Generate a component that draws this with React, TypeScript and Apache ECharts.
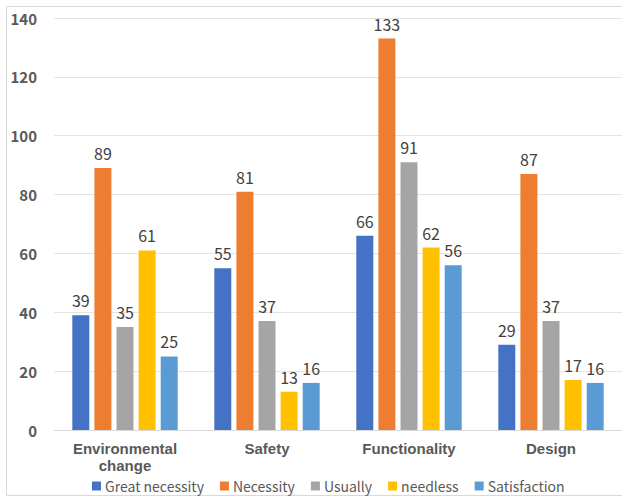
import React, { useEffect, useRef } from "react";
import * as echarts from "echarts";

const categories = ["Environmental\nchange", "Safety", "Functionality", "Design"];
const seriesNames = ["Great necessity", "Necessity", "Usually", "needless", "Satisfaction"];
const greatNecessity = [39, 55, 66, 29];
const necessity = [89, 81, 133, 87];
const usually = [35, 37, 91, 37];
const needless = [61, 13, 62, 17];
const satisfaction = [25, 16, 56, 16];
const colors = ["#4472C4", "#ED7D31", "#A5A5A5", "#FFC000", "#5B9BD5"];

const FONT = "'Noto Sans CJK KR', 'Noto Sans', sans-serif";
const CAT_FONT = "'Liberation Sans', Arial, sans-serif";

export default function App() {
  const ref = useRef<HTMLDivElement>(null);
  useEffect(() => {
    if (!ref.current) return;
    const chart = echarts.init(ref.current, undefined, { renderer: "svg" });
    const values = [greatNecessity, necessity, usually, needless, satisfaction];
    chart.setOption({
      animation: false,
      textStyle: { fontFamily: FONT },
      graphic: [
        {
          type: "rect",
          shape: { x: 6.5, y: 6.5, width: 630, height: 489 },
          style: { fill: "none", stroke: "#d9d9d9", lineWidth: 1 },
          silent: true,
        },
      ],
      grid: { left: 54, right: -10, top: 18, bottom: 67, containLabel: false },
      legend: {
        bottom: -1,
        left: 87,
        itemWidth: 9,
        itemHeight: 9,
        itemGap: 16,
        icon: "rect",
        textStyle: { fontFamily: FONT, fontSize: 14, color: "#595959", padding: [0, 0, 0, -1] },
        data: seriesNames,
      },
      xAxis: {
        type: "category",
        data: categories,
        axisLine: { show: true, lineStyle: { color: "#d9d9d9", width: 1 } },
        axisTick: { show: false },
        axisLabel: {
          interval: 0,
          color: "#595959",
          fontWeight: "bold",
          fontSize: 15,
          fontFamily: CAT_FONT,
          margin: 10,
          lineHeight: 17,
        },
      },
      yAxis: {
        type: "value",
        min: 0,
        max: 140,
        interval: 20,
        axisLine: { show: false },
        axisTick: { show: false },
        splitLine: { lineStyle: { color: "#e4e4e4", width: 1 } },
        axisLabel: {
          color: "#595959",
          fontWeight: "bold",
          fontSize: 15,
          fontFamily: FONT,
          margin: 17,
        },
      },
      series: seriesNames.map((name, i) => ({
        name,
        type: "bar",
        data: values[i],
        barWidth: 17,
        barGap: "30%",
        itemStyle: { color: colors[i] },
        label: {
          show: true,
          position: "top",
          distance: 7,
          color: "#404040",
          fontSize: 16,
          fontFamily: FONT,
        },
      })),
    });
    return () => chart.dispose();
  }, []);
  return (
    <div
      ref={ref}
      style={{ position: "fixed", left: 0, top: 0, width: 622, height: 497, background: "#fff" }}
    />
  );
}
